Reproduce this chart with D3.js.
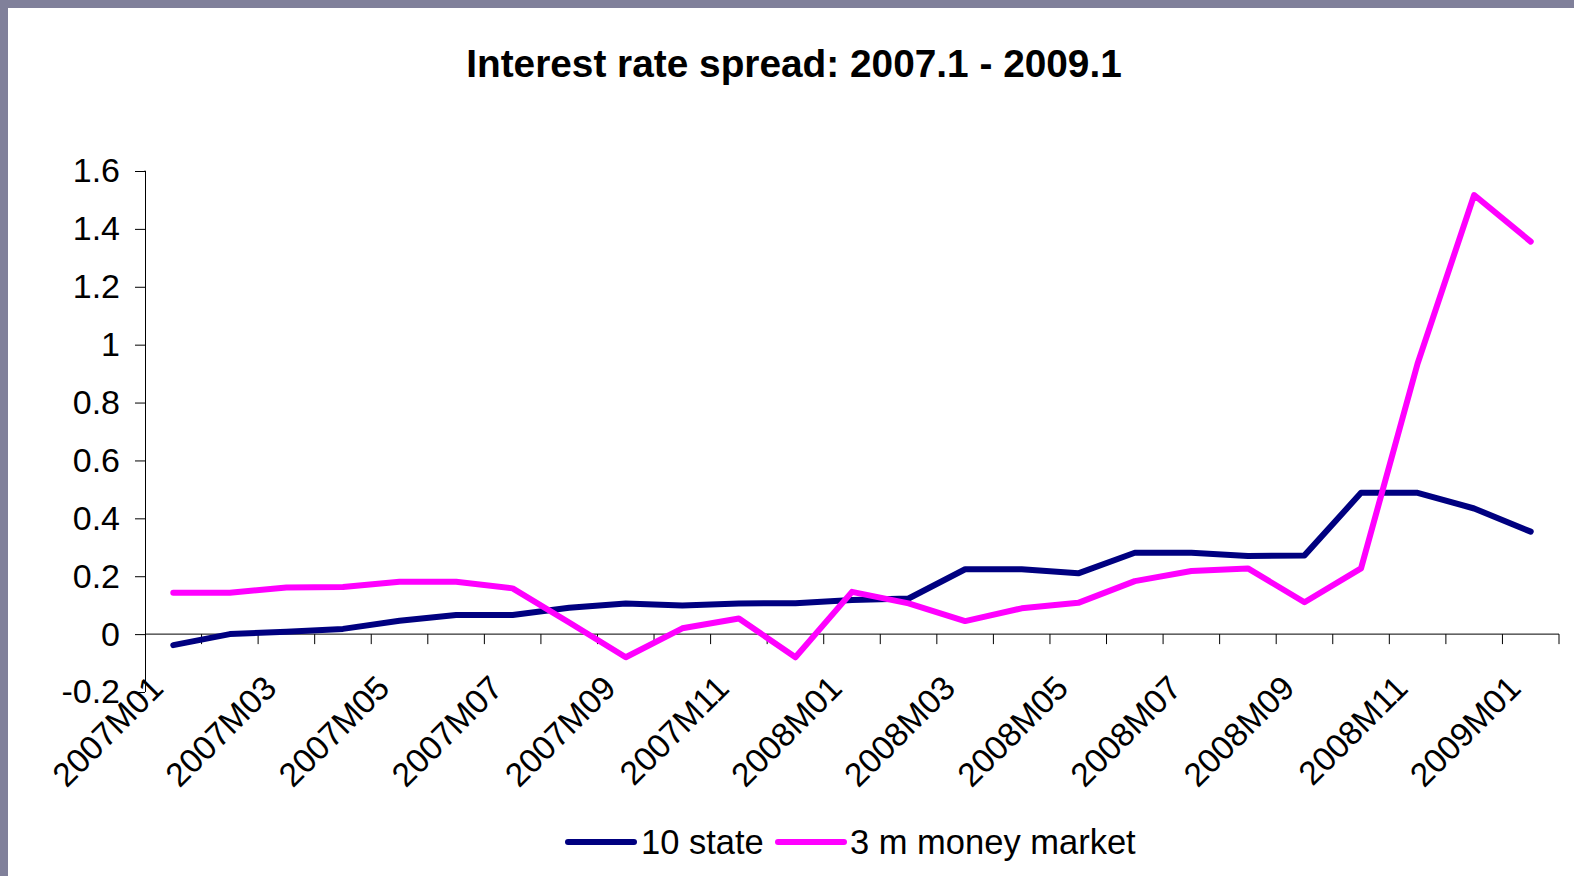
<!DOCTYPE html>
<html>
<head>
<meta charset="utf-8">
<script src="https://cdn.jsdelivr.net/npm/d3@7"></script>
<style>
  html, body { margin: 0; padding: 0; background: #ffffff; }
  svg { display: block; font-family: "Liberation Sans", Arial, sans-serif; }
</style>
</head>
<body>
<svg id="chart" width="1574" height="876"></svg>
<script>
// Monthly categories, 2007M01 .. 2009M01
const months = [
  "2007M01","2007M02","2007M03","2007M04","2007M05","2007M06","2007M07",
  "2007M08","2007M09","2007M10","2007M11","2007M12",
  "2008M01","2008M02","2008M03","2008M04","2008M05","2008M06","2008M07",
  "2008M08","2008M09","2008M10","2008M11","2008M12","2009M01"
];

// Spread series
const stateSpread = [
  -0.038, 0.0, 0.008, 0.018, 0.046, 0.066, 0.066, 0.091, 0.106, 0.099, 0.106, 0.107,
  0.118, 0.123, 0.224, 0.224, 0.21, 0.281, 0.281, 0.27, 0.272, 0.488, 0.488, 0.434, 0.354
];
const moneyMarketSpread = [
  0.143, 0.143, 0.161, 0.163, 0.181, 0.181, 0.158, 0.04, -0.08, 0.02, 0.054, -0.08,
  0.146, 0.106, 0.045, 0.089, 0.108, 0.183, 0.218, 0.227, 0.11, 0.227, 0.935, 1.517, 1.356
];

const seriesNames = ["10 state", "3 m money market"];
const seriesColors = ["#000080", "#ff00ff"];
const yTicks = [-0.2, 0, 0.2, 0.4, 0.6, 0.8, 1, 1.2, 1.4, 1.6];
const yTickLabels = ["-0.2", "0", "0.2", "0.4", "0.6", "0.8", "1", "1.2", "1.4", "1.6"];
const xLabelMonths = months.filter((m, i) => i % 2 === 0);
const title = "Interest rate spread: 2007.1 - 2009.1";

const svg = d3.select("#chart");

// Slide frame along the top and left edges
svg.append("rect").attr("x", 0).attr("y", 0).attr("width", 1574).attr("height", 876).attr("fill", "#80809a");
svg.append("rect").attr("x", 8).attr("y", 8).attr("width", 1566).attr("height", 868).attr("fill", "#ffffff");

const plot = { left: 145, right: 1559, top: 171, bottom: 692 };

const x = d3.scaleBand().domain(months).range([plot.left, plot.right]);
const y = d3.scaleLinear().domain([-0.2, 1.6]).range([plot.bottom, plot.top]);

// Title
svg.append("text")
  .attr("x", 794).attr("y", 77)
  .attr("text-anchor", "middle")
  .attr("font-size", 38.8).attr("font-weight", "bold")
  .attr("fill", "#000")
  .text(title);

// Y axis
const yAxis = d3.axisLeft(y).tickValues(yTicks).tickSize(10).tickPadding(15)
  .tickFormat((d, i) => yTickLabels[i]);
const gy = svg.append("g").attr("transform", `translate(${plot.left},0)`).call(yAxis);
gy.select(".domain").attr("d", `M-0.5,${plot.top}H0.5V${plot.bottom}`).attr("stroke", "#000");
gy.selectAll(".tick line").attr("stroke", "#000");
gy.selectAll(".tick text")
  .attr("font-size", 34).attr("font-family", "Liberation Sans, Arial, sans-serif")
  .attr("fill", "#000");

// X axis along the zero line, ticks between categories
const gx = svg.append("g").attr("transform", `translate(0,${y(0)})`);
gx.append("line")
  .attr("x1", plot.left).attr("x2", plot.right)
  .attr("y1", 0).attr("y2", 0)
  .attr("stroke", "#000");
const boundaries = months.map(m => x(m)).concat([x(months[months.length - 1]) + x.bandwidth()]);
gx.selectAll("line.tick")
  .data(boundaries.slice(1))
  .join("line")
  .attr("class", "tick")
  .attr("x1", d => d).attr("x2", d => d)
  .attr("y1", 0).attr("y2", 10)
  .attr("stroke", "#000");

// Rotated category labels below the plot
svg.append("g").selectAll("text")
  .data(xLabelMonths)
  .join("text")
  .attr("transform", d => `translate(${x(d) + x.bandwidth() / 2 - 8},${plot.bottom - 2}) rotate(-45)`)
  .attr("text-anchor", "end")
  .attr("font-size", 33.5)
  .attr("fill", "#000")
  .text(d => d);

// Series lines
const line = d3.line()
  .x((d, i) => x(months[i]) + x.bandwidth() / 2)
  .y(d => y(d));

[stateSpread, moneyMarketSpread].forEach((values, k) => {
  svg.append("path")
    .datum(values)
    .attr("d", line)
    .attr("fill", "none")
    .attr("stroke", seriesColors[k])
    .attr("stroke-width", 6)
    .attr("stroke-linecap", "round")
    .attr("stroke-linejoin", "round");
});

// Legend
const legendItems = [
  { name: seriesNames[0], color: seriesColors[0], x0: 568, x1: 634, tx: 641 },
  { name: seriesNames[1], color: seriesColors[1], x0: 778, x1: 844, tx: 850 }
];
const lg = svg.append("g");
legendItems.forEach(it => {
  lg.append("line")
    .attr("x1", it.x0).attr("x2", it.x1)
    .attr("y1", 842).attr("y2", 842)
    .attr("stroke", it.color).attr("stroke-width", 6)
    .attr("stroke-linecap", "round");
  lg.append("text")
    .attr("x", it.tx).attr("y", 854)
    .attr("font-size", 34.5)
    .attr("fill", "#000")
    .text(it.name);
});
</script>
</body>
</html>
